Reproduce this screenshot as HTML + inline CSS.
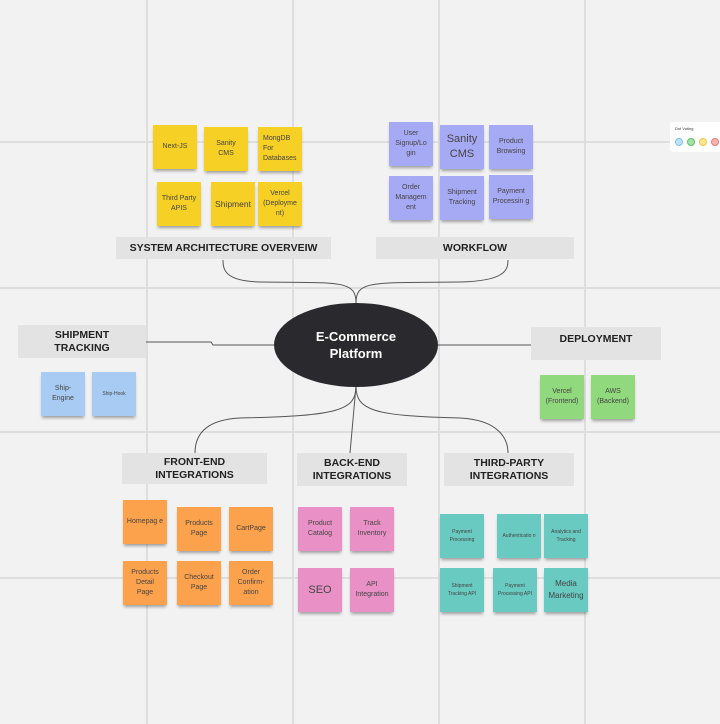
<!DOCTYPE html>
<html><head><meta charset="utf-8"><style>
body{margin:0;width:720px;height:724px;overflow:hidden;background:#f2f2f2;font-family:"Liberation Sans",sans-serif;position:relative}
.abs{position:absolute}
.s{position:absolute;width:44px;height:44px;box-sizing:border-box;padding:0 4px;display:flex;align-items:center;justify-content:center;text-align:center;font-size:7px;line-height:10px;color:#444;box-shadow:0 3px 3px -1px rgba(0,0,0,.35);overflow-wrap:anywhere;word-break:normal}
.y{background:#f6d024}.p{background:#a6a9f3}.b{background:#a8cbf3}.g{background:#90d97c}.o{background:#fda24c}.k{background:#e991c6}.t{background:#68cac1}
.l{position:absolute;background:#e3e3e3;display:flex;align-items:center;justify-content:center;text-align:center;font-weight:bold;font-size:10.5px;line-height:13px;color:#222}
</style></head><body>
<svg class="abs" style="left:0;top:0" width="720" height="724">
<g stroke="#dedede" stroke-width="2">
<line x1="147" y1="0" x2="147" y2="724"/><line x1="293" y1="0" x2="293" y2="724"/><line x1="439" y1="0" x2="439" y2="724"/><line x1="585" y1="0" x2="585" y2="724"/>
<line x1="0" y1="142" x2="720" y2="142"/><line x1="0" y1="288" x2="720" y2="288"/><line x1="0" y1="432" x2="720" y2="432"/><line x1="0" y1="578" x2="720" y2="578"/>
</g>
<g fill="none" stroke="#555" stroke-width="1">
<path d="M356 303 C356 280 340 283 260 282 C225 281 223 270 223 260"/>
<path d="M356 303 C356 280 372 283 460 282 C505 281 508 270 508 260"/>
<path d="M274 345 L213 345 L211 342 L146 342"/>
<path d="M438 345 L531 345"/>
<path d="M356 386 C356 410 340 416 240 418 C200 420 195 440 195 453"/>
<path d="M356 386 L350 453"/>
<path d="M356 386 C356 410 372 416 460 418 C500 420 508 440 508 453"/>
</g>
<ellipse cx="356" cy="345" rx="82" ry="42" fill="#2a2a2e"/>
<text x="356" y="341" fill="#fff" font-weight="bold" font-size="13" text-anchor="middle" font-family="Liberation Sans, sans-serif">E-Commerce</text>
<text x="356" y="358" fill="#fff" font-weight="bold" font-size="13" text-anchor="middle" font-family="Liberation Sans, sans-serif">Platform</text>
</svg>

<div class="s y" style="left:153px;top:125px">Next-JS</div>
<div class="s y" style="left:204px;top:127px;padding:0 8px">Sanity CMS</div>
<div class="s y" style="left:258px;top:127px;text-align:left;justify-content:flex-start;padding:0 2px 0 5px">MongDB For Databases</div>
<div class="s y" style="left:157px;top:182px">Third Party APIS</div>
<div class="s y" style="left:211px;top:182px;font-size:8.5px;padding:0 1px">Shipment</div>
<div class="s y" style="left:258px;top:182px">Vercel (Deployme nt)</div>

<div class="s p" style="left:389px;top:122px;padding:0 2px">User Signup/Lo gin</div>
<div class="s p" style="left:440px;top:125px;font-size:11px;line-height:15px;padding:0 5px">Sanity CMS</div>
<div class="s p" style="left:489px;top:125px;padding:0 2px">Product Browsing</div>
<div class="s p" style="left:389px;top:176px;padding:0 2px">Order Managem ent</div>
<div class="s p" style="left:440px;top:176px;padding:0 2px">Shipment Tracking</div>
<div class="s p" style="left:489px;top:175px;padding:0 2px">Payment Processin g</div>

<div class="l" style="left:116px;top:237px;width:215px;height:22px">SYSTEM ARCHITECTURE OVERVEIW</div>
<div class="l" style="left:376px;top:237px;width:198px;height:22px">WORKFLOW</div>
<div class="l" style="left:18px;top:325px;width:128px;height:33px">SHIPMENT<br>TRACKING</div>
<div class="l" style="left:531px;top:327px;width:130px;height:33px;align-items:flex-start;padding-top:6px;box-sizing:border-box">DEPLOYMENT</div>
<div class="l" style="left:122px;top:453px;width:145px;height:31px">FRONT-END<br>INTEGRATIONS</div>
<div class="l" style="left:297px;top:453px;width:110px;height:33px">BACK-END<br>INTEGRATIONS</div>
<div class="l" style="left:444px;top:453px;width:130px;height:33px">THIRD-PARTY<br>INTEGRATIONS</div>

<div class="s b" style="left:41px;top:372px;padding:0 10px">Ship-Engine</div>
<div class="s b" style="left:92px;top:372px;font-size:5px;padding:0 1px">Ship-Hook</div>
<div class="s g" style="left:540px;top:375px;padding:0 1px">Vercel (Frontend)</div>
<div class="s g" style="left:591px;top:375px;padding:0 1px">AWS (Backend)</div>

<div class="s o" style="left:123px;top:500px;padding:0 3px">Homepag e</div>
<div class="s o" style="left:177px;top:507px">Products Page</div>
<div class="s o" style="left:229px;top:507px;padding:0 1px">CartPage</div>
<div class="s o" style="left:123px;top:561px">Products Detail Page</div>
<div class="s o" style="left:177px;top:561px">Checkout Page</div>
<div class="s o" style="left:229px;top:561px">Order Confirm- ation</div>

<div class="s k" style="left:298px;top:507px">Product Catalog</div>
<div class="s k" style="left:350px;top:507px;padding:0 2px">Track Inventory</div>
<div class="s k" style="left:298px;top:568px;font-size:11px">SEO</div>
<div class="s k" style="left:350px;top:568px;padding:0 1px">API Integration</div>

<div class="s t" style="left:440px;top:514px;font-size:5px;line-height:8px">Payment Processing</div>
<div class="s t" style="left:497px;top:514px;font-size:5px;line-height:8px;padding:0 3px">Authenticatio n</div>
<div class="s t" style="left:544px;top:514px;font-size:5px;line-height:8px">Analytics and Tracking</div>
<div class="s t" style="left:440px;top:568px;font-size:5px;line-height:8px">Shipment Tracking API</div>
<div class="s t" style="left:493px;top:568px;font-size:5px;line-height:8px">Payment Processing API</div>
<div class="s t" style="left:544px;top:568px;font-size:8px;line-height:12px">Media Marketing</div>

<div class="abs" style="left:670px;top:122px;width:52px;height:30px;background:#fff;border-radius:3px">
<div class="abs" style="left:5px;top:4px;font-size:4px;color:#333">Dot Voting</div>
<div class="abs" style="left:5px;top:16px;width:6px;height:6px;border-radius:50%;background:#bfe4f7;border:1px solid #7cc3e8"></div>
<div class="abs" style="left:17px;top:16px;width:6px;height:6px;border-radius:50%;background:#a6e3a6;border:1px solid #5bbf6a"></div>
<div class="abs" style="left:29px;top:16px;width:6px;height:6px;border-radius:50%;background:#fbe59a;border:1px solid #f0c640"></div>
<div class="abs" style="left:41px;top:16px;width:6px;height:6px;border-radius:50%;background:#f7b3b3;border:1px solid #e57d7d"></div>
</div>
</body></html>
